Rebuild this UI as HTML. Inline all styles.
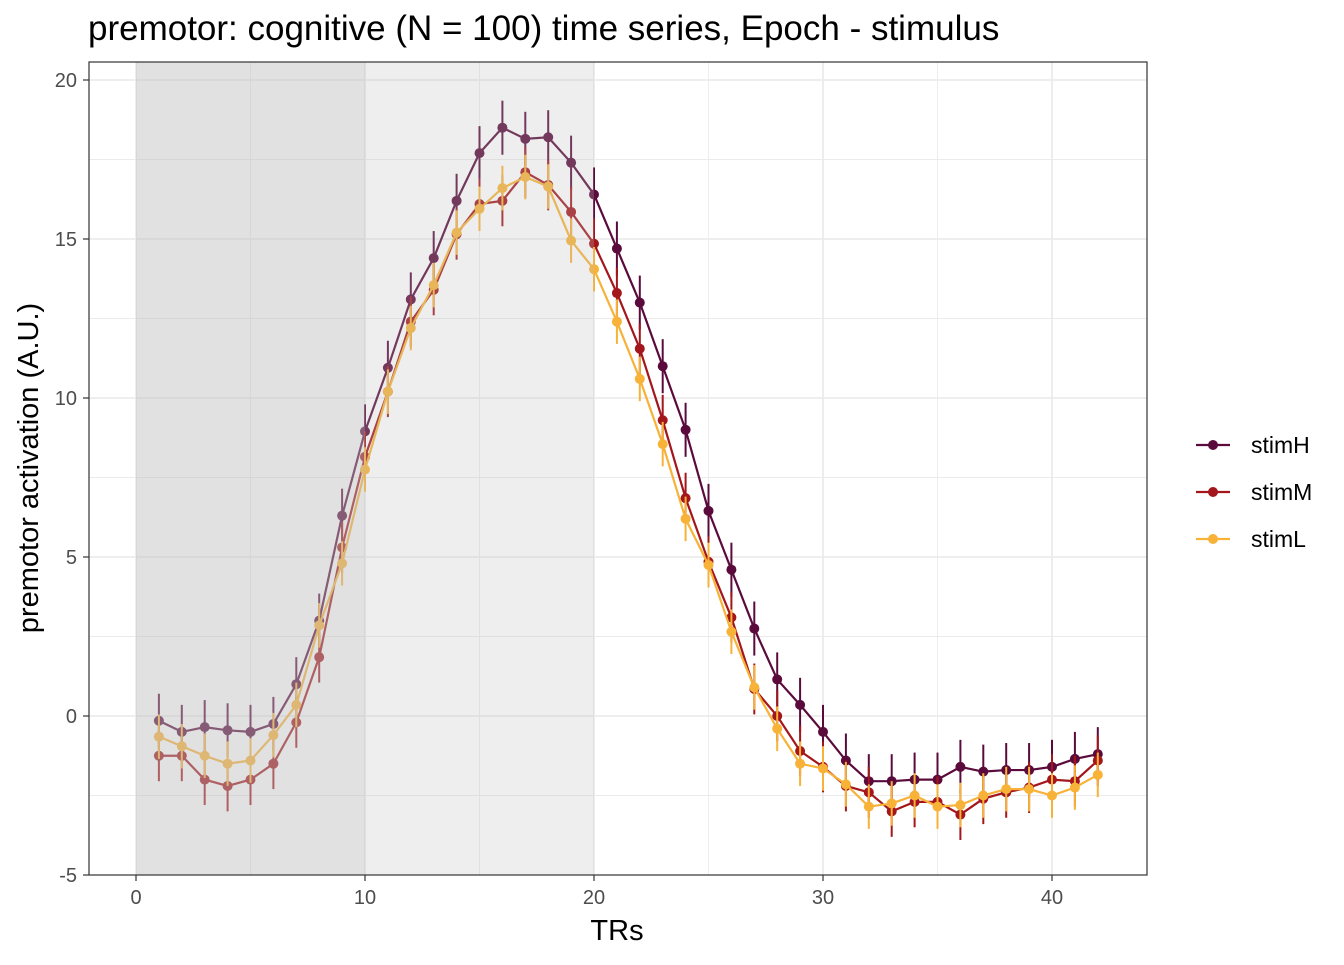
<!DOCTYPE html>
<html><head><meta charset="utf-8"><style>
body{margin:0;background:#fff;font-family:"Liberation Sans",Arial,sans-serif}
</style></head><body>
<svg id="chart" width="1344" height="960" xmlns="http://www.w3.org/2000/svg" font-family="Liberation Sans, Arial, sans-serif">
<text x="88" y="40" font-size="35" fill="#000">premotor: cognitive (N = 100) time series, Epoch - stimulus</text>
<g id="grid"></g><g id="series"></g><g id="shade"></g><g id="axes"></g>
<rect x="89" y="62" width="1058" height="813" fill="none" stroke="#333" stroke-width="1.2"/>
<text x="617" y="940" font-size="29" text-anchor="middle">TRs</text>
<text transform="translate(38,468) rotate(-90)" font-size="29" text-anchor="middle">premotor activation (A.U.)</text>
<g id="legend"></g>
</svg>
<script>
const trs=[];for(let i=1;i<=42;i++)trs.push(i);
const stimH=[-0.15,-0.5,-0.35,-0.45,-0.5,-0.25,1.0,3.0,6.3,8.95,10.95,13.1,14.4,16.2,17.7,18.5,18.15,18.2,17.4,16.4,14.7,13.0,11.0,9.0,6.45,4.6,2.75,1.15,0.35,-0.5,-1.4,-2.05,-2.05,-2.0,-2.0,-1.6,-1.75,-1.7,-1.7,-1.6,-1.35,-1.2];
const stimM=[-1.25,-1.25,-2.0,-2.2,-2.0,-1.5,-0.2,1.85,5.3,8.15,10.2,12.4,13.4,15.15,16.1,16.2,17.1,16.7,15.85,14.85,13.3,11.55,9.3,6.85,4.85,3.1,0.85,0.0,-1.1,-1.6,-2.2,-2.4,-3.0,-2.7,-2.7,-3.1,-2.6,-2.4,-2.25,-2.0,-2.05,-1.4];
const stimL=[-0.65,-0.95,-1.25,-1.5,-1.4,-0.6,0.35,2.85,4.8,7.75,10.2,12.2,13.55,15.2,15.95,16.6,16.95,16.65,14.95,14.05,12.4,10.6,8.55,6.2,4.75,2.65,0.9,-0.4,-1.5,-1.65,-2.15,-2.85,-2.75,-2.5,-2.85,-2.8,-2.5,-2.3,-2.3,-2.5,-2.25,-1.85];
const errH=0.85,errM=0.8,errL=0.7;
const xTicks=[0,10,20,30,40];
const yTicks=[-5,0,5,10,15,20];
const seriesNames=["stimH","stimM","stimL"];
const colors=["#5a0b3c","#a3161b","#f7b237"];
const X=v=>136+v*22.9, Y=v=>716-v*31.8;
const NS="http://www.w3.org/2000/svg";
function mk(p,t,a){const e=document.createElementNS(NS,t);for(const k in a)e.setAttribute(k,a[k]);document.getElementById(p).appendChild(e);return e;}
for(let v=-2.5;v<=20;v+=2.5){const l=mk('grid','line',{x1:89,x2:1147,y1:Y(v),y2:Y(v),stroke:'#ebebeb','stroke-width':v%5===0?1.8:0.9});

}
for(let v=0;v<=45;v+=5){if(X(v)>1147)break;const l=mk('grid','line',{x1:X(v),x2:X(v),y1:62,y2:875,stroke:'#ebebeb','stroke-width':v%10===0?1.8:0.9});

}
const data=[stimH,stimM,stimL],errs=[errH,errM,errL];
data.forEach((s,k)=>{
 s.forEach((v,i)=>{const e=mk('series','line',{x1:X(trs[i]),x2:X(trs[i]),y1:Y(v-errs[k]),y2:Y(v+errs[k]),stroke:colors[k],'stroke-width':2});
 
 });
 const p=mk('series','polyline',{points:s.map((v,i)=>X(trs[i])+','+Y(v)).join(' '),fill:'none',stroke:colors[k],'stroke-width':2.2});
 
 
 s.forEach((v,i)=>{const c=mk('series','circle',{cx:X(trs[i]),cy:Y(v),r:5,fill:colors[k]});
 
 });
});
const s1=mk('shade','rect',{x:X(0),y:62,width:X(20)-X(0),height:813,fill:'#bebebe','fill-opacity':0.26});


const s2=mk('shade','rect',{x:X(0),y:62,width:X(10)-X(0),height:813,fill:'#bebebe','fill-opacity':0.26});


xTicks.forEach(v=>{mk('axes','line',{x1:X(v),x2:X(v),y1:875,y2:881,stroke:'#333','stroke-width':1.2});
 const t=mk('axes','text',{x:X(v),y:904,'font-size':20,'text-anchor':'middle',fill:'#4d4d4d'});t.textContent=v;
 
 });
yTicks.forEach(v=>{mk('axes','line',{x1:83,x2:89,y1:Y(v),y2:Y(v),stroke:'#333','stroke-width':1.2});
 const t=mk('axes','text',{x:77,y:Y(v)+7,'font-size':20,'text-anchor':'end',fill:'#4d4d4d'});t.textContent=v;
 
 });
seriesNames.forEach((n,k)=>{const y=445+k*47;
 const g=mk('legend','g',{});
 
 
 const l=document.createElementNS(NS,'line');l.setAttribute('x1',1196);l.setAttribute('x2',1230);l.setAttribute('y1',y);l.setAttribute('y2',y);l.setAttribute('stroke',colors[k]);l.setAttribute('stroke-width',2.2);g.appendChild(l);
 const c=document.createElementNS(NS,'circle');c.setAttribute('cx',1213);c.setAttribute('cy',y);c.setAttribute('r',5);c.setAttribute('fill',colors[k]);g.appendChild(c);
 const t=document.createElementNS(NS,'text');t.setAttribute('x',1251);t.setAttribute('y',y+8);t.setAttribute('font-size',23);t.textContent=n;g.appendChild(t);
});
</script>
</body></html>
